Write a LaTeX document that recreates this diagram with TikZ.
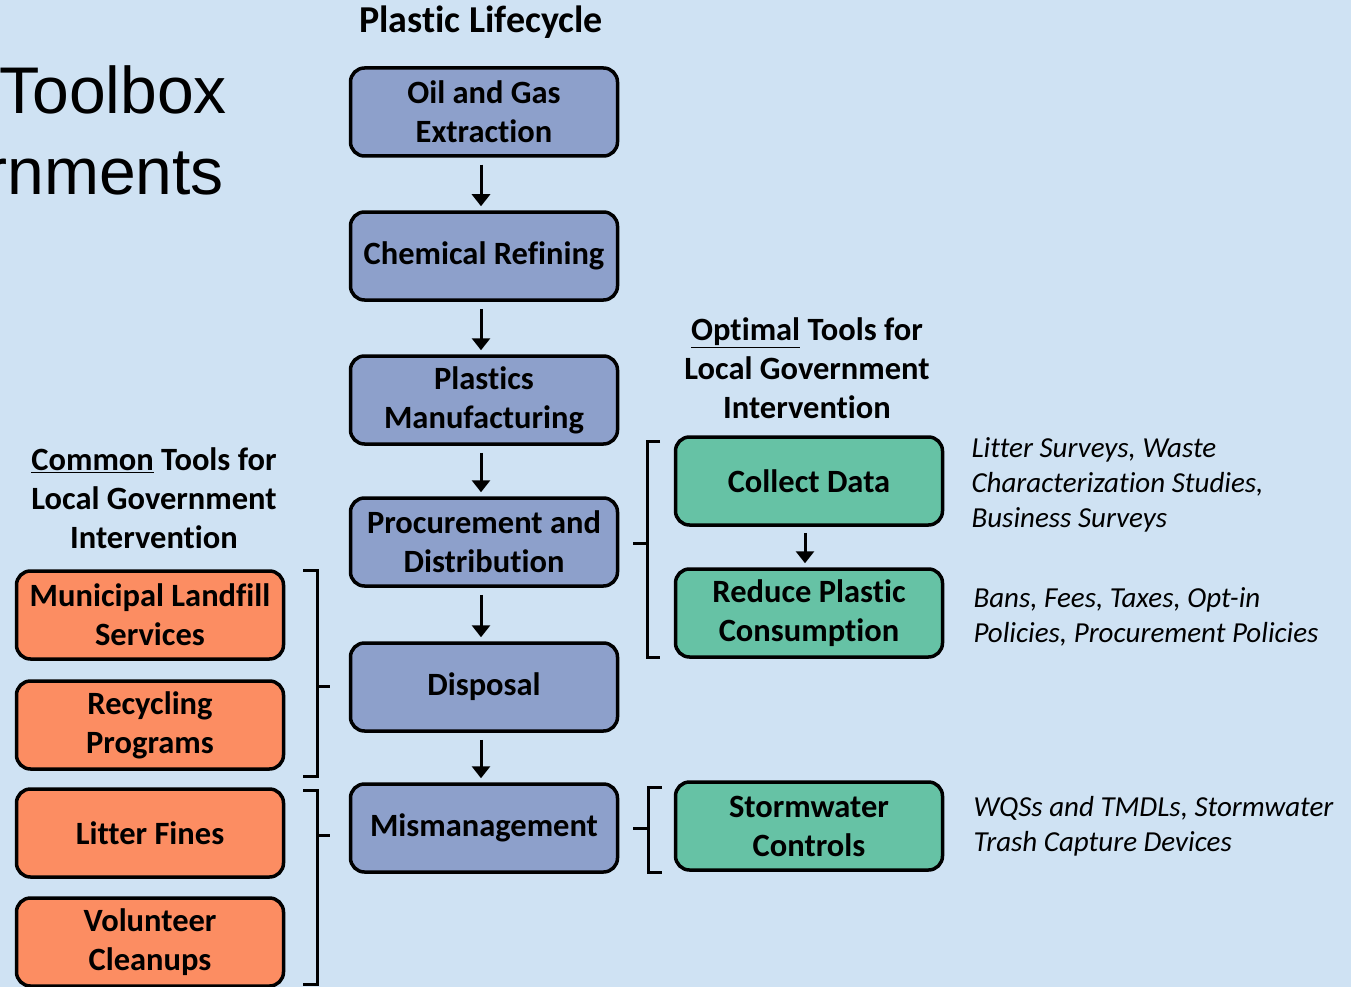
\documentclass[tikz,border=0pt]{standalone}
\usepackage{fontspec}
\setmainfont[Ligatures=NoCommon]{Carlito}
\newfontfamily\arialfont{Liberation Sans}
\usetikzlibrary{arrows.meta,positioning}
\definecolor{bgblue}{HTML}{CFE2F3}
\definecolor{stageblue}{HTML}{8DA0CB}
\definecolor{toolgreen}{HTML}{66C2A5}
\definecolor{toolorange}{HTML}{FC8D62}

\begin{document}
\begin{tikzpicture}[y=-1pt,x=1pt,
	box/.style={draw, line width=3.5pt, rounded corners=14pt, minimum width=267pt, minimum height=88pt,
		inner sep=0pt, align=center, font=\fontsize{32.5}{39}\selectfont\bfseries},
	stage/.style={box, fill=stageblue},
	optimal/.style={box, fill=toolgreen},
	common/.style={box, fill=toolorange},
	heading/.style={align=center, font=\fontsize{32.5}{39}\selectfont\bfseries},
	example/.style={anchor=west, align=left, font=\fontsize{29}{35}\selectfont\itshape},
	flow/.style={-{Triangle[length=12pt,width=18pt]}, line width=3pt, shorten <=7pt, shorten >=4pt},
	bracket/.style={line width=3pt}]
	\useasboundingbox (0,0) rectangle (1351,987);
	\clip (0,0) rectangle (1351,987);
	\fill[bgblue] (0,0) rectangle (1351,987);

	% slide title, cut at the left edge
	\node[anchor=base east, inner sep=0pt, font=\arialfont\fontsize{66}{78}\selectfont] (toolbox) at (227,114) {Toolbox};
	\node[anchor=base east, inner sep=0pt, font=\arialfont\fontsize{66}{78}\selectfont] (governments) at (224,195) {rnments};

	% lifecycle
	\node[heading, font=\fontsize{38}{44}\selectfont\bfseries] (lifecycle) at (481,22) {Plastic Lifecycle};
	\node[stage] (oil) at (484,112) {Oil and Gas\\Extraction};
	\node[stage] (refining) at (484,256) {Chemical Refining};
	\node[stage] (manufacturing) at (484,400) {Plastics\\Manufacturing};
	\node[stage] (procurement) at (484,542) {Procurement and\\Distribution};
	\node[stage] (disposal) at (484,687) {Disposal};
	\node[stage] (mismanagement) at (484,828) {Mismanagement};

	\draw[flow] ([xshift=-3pt]oil.south) -- ([xshift=-3pt]refining.north);
	\draw[flow] ([xshift=-3pt]refining.south) -- ([xshift=-3pt]manufacturing.north);
	\draw[flow] ([xshift=-3pt]manufacturing.south) -- ([xshift=-3pt]procurement.north);
	\draw[flow] ([xshift=-3pt]procurement.south) -- ([xshift=-3pt]disposal.north);
	\draw[flow] ([xshift=-3pt]disposal.south) -- ([xshift=-3pt]mismanagement.north);

	% optimal tools
	\node[heading] (optimalhead) at (807,368) {\underline{Optimal} Tools for\\Local Government\\Intervention};
	\node[optimal] (collect) at (809,481) {Collect Data};
	\node[optimal] (reduce) at (809,613) {Reduce Plastic\\Consumption};
	\node[optimal] (stormwater) at (809,826) {Stormwater\\Controls};
	\draw[flow, shorten <=6pt, shorten >=4pt] ([xshift=-4pt]collect.south) -- ([xshift=-4pt]reduce.north);

	\node[example] (collectex) at (968,485) {Litter Surveys, Waste\\Characterization Studies,\\Business Surveys};
	\node[example] (reduceex) at (970,617) {Bans, Fees, Taxes, Opt-in\\Policies, Procurement Policies};
	\node[example] (stormex) at (970,826) {WQSs and TMDLs, Stormwater\\Trash Capture Devices};

	% common tools
	\node[heading] (commonhead) at (154,498) {\underline{Common} Tools for\\Local Government\\Intervention};
	\node[common] (landfill) at (150,615) {Municipal Landfill\\Services};
	\node[common] (recycling) at (150,725) {Recycling\\Programs};
	\node[common] (fines) at (150,833) {Litter Fines};
	\node[common] (cleanups) at (150,942) {Volunteer\\Cleanups};

	% brackets
	\draw[bracket] (660,441) -- (647,441) -- (647,657) -- (660,657);
	\draw[bracket] (647,543) -- (633,543);
	\draw[bracket] (662,787) -- (648,787) -- (648,872) -- (662,872);
	\draw[bracket] (648,828) -- (633,828);
	\draw[bracket] (303,570) -- (317,570) -- (317,776) -- (303,776);
	\draw[bracket] (317,686) -- (330,686);
	\draw[bracket] (303,790) -- (317,790) -- (317,984) -- (303,984);
	\draw[bracket] (317,835) -- (330,835);
\end{tikzpicture}
\end{document}
